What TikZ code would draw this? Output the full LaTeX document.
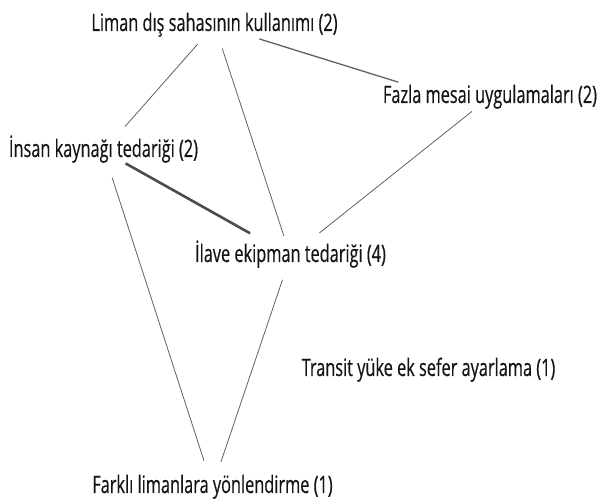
\documentclass[tikz,border=0pt]{standalone}
\usepackage{fontspec}
\setmainfont{Open Sans}[FakeStretch=0.68,FakeBold=0.4]
\begin{document}
\begin{tikzpicture}[x=1pt,y=-1pt,
  lbl/.style={font=\fontsize{24}{28}\selectfont, text=black!92, inner sep=0pt, text height=17.5pt, text depth=5.5pt},
  edge/.style={draw=black!62, line width=0.8pt},
  midedge/.style={draw=black!62, line width=1.3pt},
  thickedge/.style={draw=black!70, line width=2.6pt}]
\useasboundingbox (0,0) rectangle (600,502);
\node[lbl] (L) at (214.5,25) {Liman dış sahasının kullanımı (2)};
\node[lbl] (F) at (490,97) {Fazla mesai uygulamaları (2)};
\node[lbl] (I) at (103.5,151) {İnsan kaynağı tedariği (2)};
\node[lbl] (E) at (290.5,256) {İlave ekipman tedariği (4)};
\node[lbl] (T) at (428.5,370) {Transit yüke ek sefer ayarlama (1)};
\node[lbl] (K) at (212.5,487) {Farklı limanlara yönlendirme (1)};
\coordinate (Faim) at ([xshift=-44pt]F.center);
\draw[edge, shorten <=25.5pt, shorten >=32.6pt] (L.center) -- (I.center);
\draw[edge, shorten <=24.7pt, shorten >=21.3pt] (L.center) -- (E.center);
\draw[midedge, shorten <=46.9pt, shorten >=50pt] (L.center) -- (Faim);
\draw[edge, shorten <=23pt, shorten >=37pt] (F.center) -- (E.center);
\draw[thickedge, shorten <=25.4pt, shorten >=46.4pt] (I.center) -- (E.center);
\draw[edge, shorten <=28.2pt, shorten >=27.6pt] (I.center) -- (K.center);
\draw[edge, shorten <=25pt, shorten >=26.6pt] (E.center) -- (K.center);
\end{tikzpicture}
\end{document}
